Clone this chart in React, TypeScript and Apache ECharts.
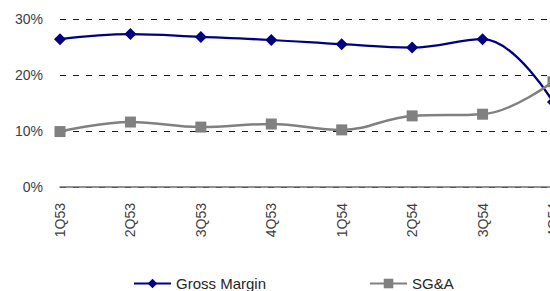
import React, { useEffect, useRef } from "react";
import * as echarts from "echarts";

const categories = ["1Q53", "2Q53", "3Q53", "4Q53", "1Q54", "2Q54", "3Q54", "4Q54"];
const grossMargin = [26.4, 27.3, 26.8, 26.25, 25.5, 24.9, 26.4, 15.2];
const sga = [9.9, 11.6, 10.7, 11.25, 10.2, 12.7, 13.0, 18.8];
const yTicks = { min: 0, max: 30, interval: 10 };

const FONT = "'Liberation Sans', Arial, sans-serif";

export default function App() {
  const ref = useRef<HTMLDivElement>(null);
  useEffect(() => {
    if (!ref.current) return;
    const chart = echarts.init(ref.current, null, { renderer: "svg" });
    chart.setOption({
      animation: false,
      backgroundColor: "#ffffff",
      textStyle: { fontFamily: FONT },
      grid: { left: 60, right: 6, top: 19, bottom: 104, containLabel: false },
      legend: {
        left: 133,
        top: 276,
        padding: 0,
        itemWidth: 37,
        itemHeight: 12,
        itemGap: 103,
        textStyle: { fontSize: 15, color: "#262626", fontFamily: FONT },
        data: ["Gross Margin", "SG&A"],
      },
      xAxis: {
        type: "category",
        data: categories,
        boundaryGap: false,
        axisLine: { lineStyle: { color: "#6e6e6e", width: 1.5 } },
        axisTick: { show: false },
        axisLabel: {
          rotate: 90,
          margin: 16,
          fontSize: 14,
          color: "#404040",
          fontFamily: FONT,
          interval: 0,
        },
        splitLine: { show: false },
      },
      yAxis: {
        type: "value",
        min: yTicks.min,
        max: yTicks.max,
        interval: yTicks.interval,
        axisLine: { show: false },
        axisTick: { show: false },
        axisLabel: {
          formatter: "{value}%",
          fontSize: 14,
          color: "#404040",
          margin: 17,
          fontFamily: FONT,
        },
        splitLine: {
          lineStyle: { color: "#1a1a1a", type: [6, 7], width: 1 },
        },
      },
      series: [
        {
          name: "Gross Margin",
          type: "line",
          data: grossMargin,
          smooth: 0.4,
          symbol: "diamond",
          symbolSize: 12,
          itemStyle: { color: "#000080" },
          lineStyle: { color: "#000080", width: 2.25 },
        },
        {
          name: "SG&A",
          type: "line",
          data: sga,
          smooth: 0.4,
          symbol: "rect",
          symbolSize: 11,
          itemStyle: { color: "#808080" },
          lineStyle: { color: "#808080", width: 2.5 },
        },
      ],
    });
    return () => chart.dispose();
  }, []);
  return (
    <div
      style={{
        position: "absolute",
        left: 0,
        top: 0,
        width: 550,
        height: 291,
        overflow: "hidden",
      }}
    >
      <div ref={ref} style={{ width: 560, height: 291 }} />
    </div>
  );
}
